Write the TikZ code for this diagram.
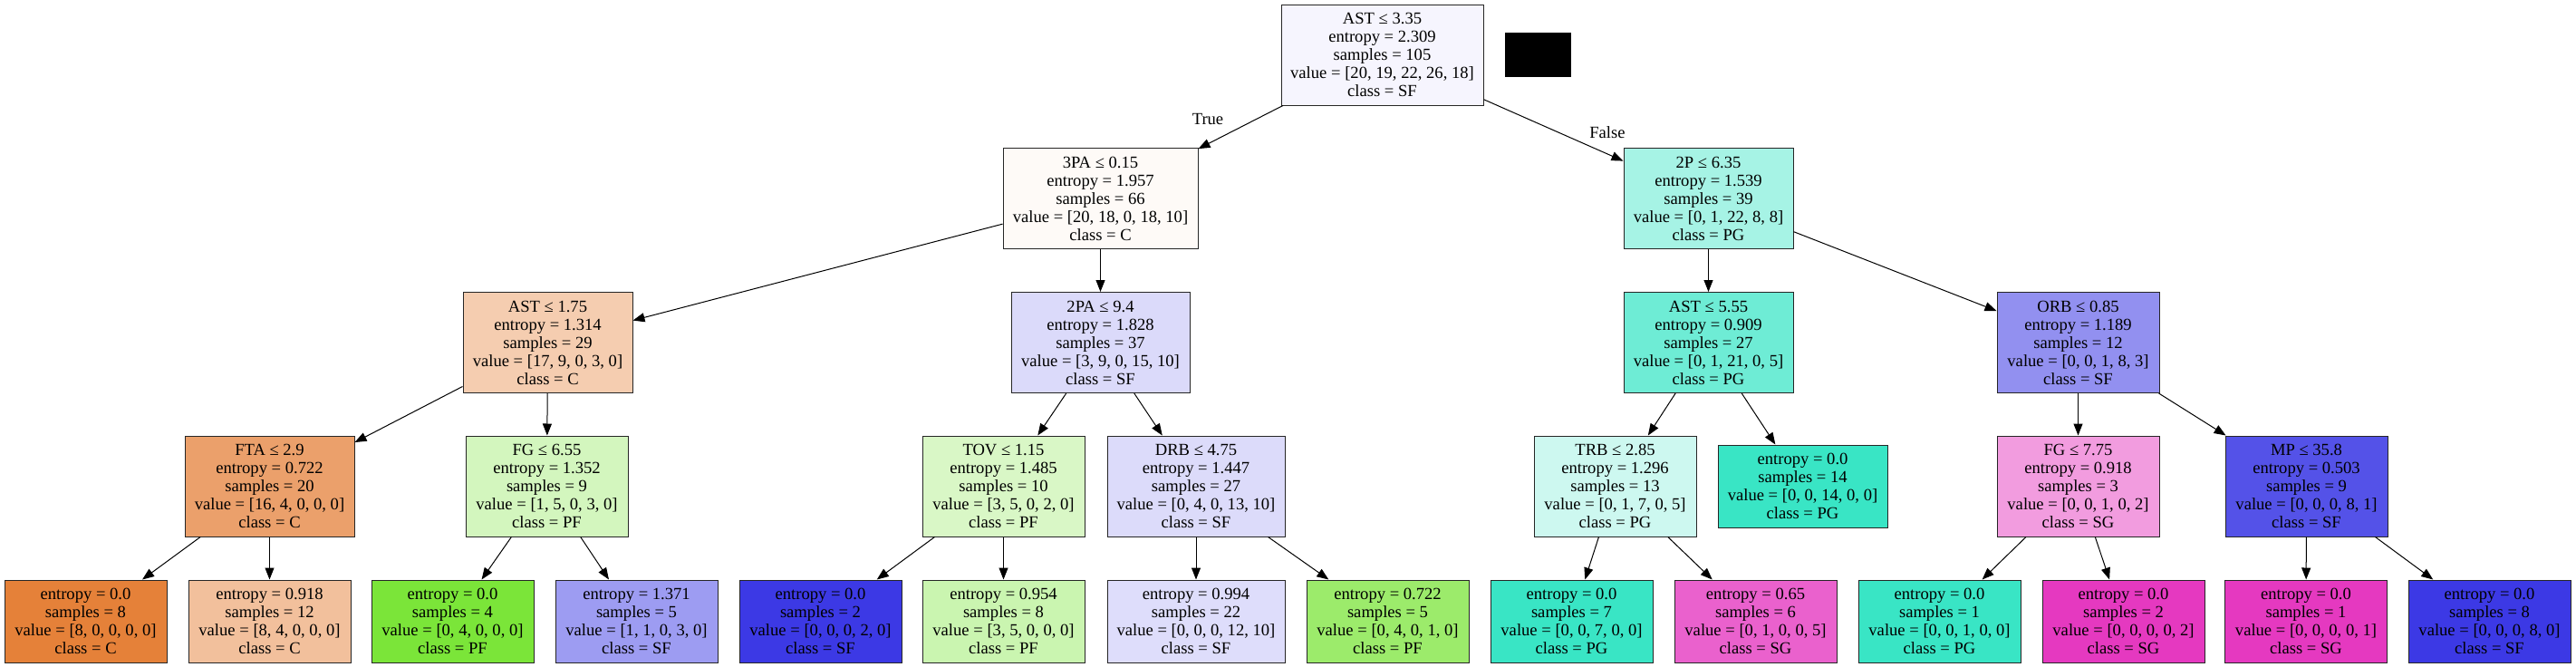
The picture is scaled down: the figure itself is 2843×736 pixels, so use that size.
\documentclass[tikz,border=0pt]{standalone}
\usepackage{fontspec}
\setmainfont{Liberation Serif}
\usepackage{xcolor}
\usepackage{tikz}
\usetikzlibrary{arrows.meta}
\definecolor{classC}{HTML}{E58139}
\definecolor{classPF}{HTML}{7BE539}
\definecolor{classPG}{HTML}{39E5C5}
\definecolor{classSF}{HTML}{3C39E5}
\definecolor{classSG}{HTML}{E539C0}

\begin{document}
\begin{tikzpicture}[x=1pt, y=-1pt, >={Triangle[length=13pt, width=10pt]},
    font=\fontsize{18.6}{20}\selectfont,
    split/.style={draw=black!85, line width=1pt, align=center, inner sep=0pt,
        minimum width=179pt, minimum height=111pt},
    leaf/.style={split, minimum height=91pt},
    edge/.style={->, line width=1pt}]
    % ── CANVAS ────────────────────────────────────────────────────────
    \fill[white] (0, 0) rectangle (2843, 736);
    \node[fill=black, inner sep=0pt, minimum width=73pt, minimum height=49pt] (mask) at (1697.5, 60.5) {};

    % ── DEPTH 0-1 ─────────────────────────────────────────────────────
    \node[split, minimum width=223pt, fill=classSF!4.8] (root) at (1525.5, 60.5)
        {AST ≤ 3.35\\entropy = 2.309\\samples = 105\\value = [20, 19, 22, 26, 18]\\class = SF};
    \node[split, minimum width=215pt, fill=classC!4.2] (tpa) at (1214.5, 219)
        {3PA ≤ 0.15\\entropy = 1.957\\samples = 66\\value = [20, 18, 0, 18, 10]\\class = C};
    \node[split, minimum width=187pt, fill=classPG!45] (twop) at (1885.5, 219)
        {2P ≤ 6.35\\entropy = 1.539\\samples = 39\\value = [0, 1, 22, 8, 8]\\class = PG};

    % ── DEPTH 2 ───────────────────────────────────────────────────────
    \node[split, minimum width=187pt, fill=classC!40] (astlow) at (604.5, 378)
        {AST ≤ 1.75\\entropy = 1.314\\samples = 29\\value = [17, 9, 0, 3, 0]\\class = C};
    \node[split, minimum width=197pt, fill=classSF!18.5] (twopa) at (1214.5, 378)
        {2PA ≤ 9.4\\entropy = 1.828\\samples = 37\\value = [3, 9, 0, 15, 10]\\class = SF};
    \node[split, minimum width=187pt, fill=classPG!73] (asthigh) at (1885.5, 378)
        {AST ≤ 5.55\\entropy = 0.909\\samples = 27\\value = [0, 1, 21, 0, 5]\\class = PG};
    \node[split, fill=classSF!56] (orb) at (2293.5, 378)
        {ORB ≤ 0.85\\entropy = 1.189\\samples = 12\\value = [0, 0, 1, 8, 3]\\class = SF};

    % ── DEPTH 3 ───────────────────────────────────────────────────────
    \node[split, minimum width=187pt, fill=classC!75] (fta) at (297.5, 536.5)
        {FTA ≤ 2.9\\entropy = 0.722\\samples = 20\\value = [16, 4, 0, 0, 0]\\class = C};
    \node[split, fill=classPF!33] (fglow) at (603.5, 536.5)
        {FG ≤ 6.55\\entropy = 1.352\\samples = 9\\value = [1, 5, 0, 3, 0]\\class = PF};
    \node[split, fill=classPF!29] (tov) at (1107.5, 536.5)
        {TOV ≤ 1.15\\entropy = 1.485\\samples = 10\\value = [3, 5, 0, 2, 0]\\class = PF};
    \node[split, minimum width=196pt, fill=classSF!18] (drb) at (1320, 536.5)
        {DRB ≤ 4.75\\entropy = 1.447\\samples = 27\\value = [0, 4, 0, 13, 10]\\class = SF};
    \node[split, fill=classPG!25] (trb) at (1782.5, 536.5)
        {TRB ≤ 2.85\\entropy = 1.296\\samples = 13\\value = [0, 1, 7, 0, 5]\\class = PG};
    \node[leaf, minimum width=187pt, fill=classPG] (pgpure) at (1989.5, 536.5)
        {entropy = 0.0\\samples = 14\\value = [0, 0, 14, 0, 0]\\class = PG};
    \node[split, fill=classSG!50] (fghigh) at (2293.5, 536.5)
        {FG ≤ 7.75\\entropy = 0.918\\samples = 3\\value = [0, 0, 1, 0, 2]\\class = SG};
    \node[split, fill=classSF!87.5] (mp) at (2545.5, 536.5)
        {MP ≤ 35.8\\entropy = 0.503\\samples = 9\\value = [0, 0, 0, 8, 1]\\class = SF};

    % ── DEPTH 4: LEAVES ───────────────────────────────────────────────
    \node[leaf, fill=classC] (fta-l) at (94.5, 685.5)
        {entropy = 0.0\\samples = 8\\value = [8, 0, 0, 0, 0]\\class = C};
    \node[leaf, fill=classC!50] (fta-r) at (297.5, 685.5)
        {entropy = 0.918\\samples = 12\\value = [8, 4, 0, 0, 0]\\class = C};
    \node[leaf, fill=classPF] (fglow-l) at (499.5, 685.5)
        {entropy = 0.0\\samples = 4\\value = [0, 4, 0, 0, 0]\\class = PF};
    \node[leaf, fill=classSF!50] (fglow-r) at (702.5, 685.5)
        {entropy = 1.371\\samples = 5\\value = [1, 1, 0, 3, 0]\\class = SF};
    \node[leaf, fill=classSF] (tov-l) at (905.5, 685.5)
        {entropy = 0.0\\samples = 2\\value = [0, 0, 0, 2, 0]\\class = SF};
    \node[leaf, fill=classPF!40] (tov-r) at (1107.5, 685.5)
        {entropy = 0.954\\samples = 8\\value = [3, 5, 0, 0, 0]\\class = PF};
    \node[leaf, minimum width=196pt, fill=classSF!17] (drb-l) at (1320, 685.5)
        {entropy = 0.994\\samples = 22\\value = [0, 0, 0, 12, 10]\\class = SF};
    \node[leaf, fill=classPF!75] (drb-r) at (1531.5, 685.5)
        {entropy = 0.722\\samples = 5\\value = [0, 4, 0, 1, 0]\\class = PF};
    \node[leaf, fill=classPG] (trb-l) at (1734.5, 685.5)
        {entropy = 0.0\\samples = 7\\value = [0, 0, 7, 0, 0]\\class = PG};
    \node[leaf, fill=classSG!80] (trb-r) at (1937.5, 685.5)
        {entropy = 0.65\\samples = 6\\value = [0, 1, 0, 0, 5]\\class = SG};
    \node[leaf, fill=classPG] (fghigh-l) at (2140.5, 685.5)
        {entropy = 0.0\\samples = 1\\value = [0, 0, 1, 0, 0]\\class = PG};
    \node[leaf, fill=classSG] (fghigh-r) at (2343.5, 685.5)
        {entropy = 0.0\\samples = 2\\value = [0, 0, 0, 0, 2]\\class = SG};
    \node[leaf, fill=classSG] (mp-l) at (2545, 685.5)
        {entropy = 0.0\\samples = 1\\value = [0, 0, 0, 0, 1]\\class = SG};
    \node[leaf, fill=classSF] (mp-r) at (2747.5, 685.5)
        {entropy = 0.0\\samples = 8\\value = [0, 0, 0, 8, 0]\\class = SF};

    % ── EDGES ─────────────────────────────────────────────────────────
    \foreach \a/\b in {root/tpa, root/twop, tpa/astlow, tpa/twopa, twop/asthigh, twop/orb,
        astlow/fta, astlow/fglow, twopa/tov, twopa/drb, asthigh/trb, asthigh/pgpure,
        orb/fghigh, orb/mp, fta/fta-l, fta/fta-r, fglow/fglow-l, fglow/fglow-r,
        tov/tov-l, tov/tov-r, drb/drb-l, drb/drb-r, trb/trb-l, trb/trb-r,
        fghigh/fghigh-l, fghigh/fghigh-r, mp/mp-l, mp/mp-r}
        \draw[edge] (\a) -- (\b);

    \node (truelabel) at (1333, 131) {True};
    \node (falselabel) at (1774, 146) {False};
\end{tikzpicture}
\end{document}
